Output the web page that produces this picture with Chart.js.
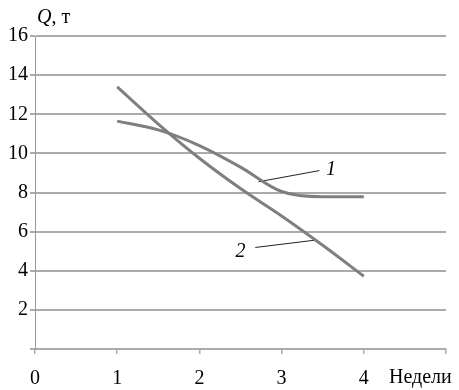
<!DOCTYPE html>
<html>
<head>
<meta charset="utf-8">
<script src="https://cdn.jsdelivr.net/npm/chart.js@4"></script>
<style>
  html, body { margin: 0; padding: 0; background: #fff; }
  #wrap { width: 459px; height: 390px; position: relative; }
</style>
</head>
<body>
<div id="wrap"><canvas id="chart" width="459" height="390"></canvas></div>
<script>
// Weeks on x, Q (tonnes) on y
const WEEKS = [1, 1.5, 2, 2.5, 3, 3.5, 4];
const CURVE_1 = [11.65, 11.2, 10.4, 9.3, 8.05, 7.78, 7.78];
const CURVE_2 = [13.4, 11.5, 9.75, 8.2, 6.8, 5.3, 3.72];
const X_TICKS = [0, 1, 2, 3, 4];
const Y_TICKS = [2, 4, 6, 8, 10, 12, 14, 16];

// leader lines for the curve labels (data coords)
const LEADER_1 = [{ x: 2.72, y: 8.55 }, { x: 3.46, y: 9.12 }];
const LEADER_2 = [{ x: 2.68, y: 5.19 }, { x: 3.4, y: 5.56 }];
const LABELS = [
  { text: "1", x: 3.6, y: 9.15 },
  { text: "2", x: 2.5, y: 4.96 },
];

const SERIF = "'Liberation Serif', 'Times New Roman', serif";
const CURVE_COLOR = "#7f7f7f";
const GRID_COLOR = "#ababab";

const toPoints = (ys) => ys.map((y, i) => ({ x: WEEKS[i], y }));

const textPlugin = {
  id: "texts",
  afterDraw(chart) {
    const { ctx, scales } = chart;
    const xs = scales.x, ys = scales.y;
    ctx.save();
    ctx.fillStyle = "#000";
    ctx.textBaseline = "middle";

    // curve numbers
    ctx.font = `italic 20px ${SERIF}`;
    ctx.textAlign = "center";
    LABELS.forEach((l) => {
      ctx.fillText(l.text, xs.getPixelForValue(l.x), ys.getPixelForValue(l.y));
    });

    // axis titles
    ctx.textAlign = "left";
    ctx.font = `italic 20px ${SERIF}`;
    ctx.fillText("Q", 37, 18);
    const qw = ctx.measureText("Q").width;
    ctx.font = `20px ${SERIF}`;
    ctx.fillText(", т", 37 + qw, 18);
    ctx.fillText("Недели", 389, 378);
    ctx.restore();
  },
};

new Chart(document.getElementById("chart"), {
  type: "line",
  data: {
    datasets: [
      { data: toPoints(CURVE_1), borderColor: CURVE_COLOR, borderWidth: 3, cubicInterpolationMode: "monotone", pointRadius: 0 },
      { data: toPoints(CURVE_2), borderColor: CURVE_COLOR, borderWidth: 3, cubicInterpolationMode: "monotone", pointRadius: 0 },
      { data: LEADER_1, borderColor: "#222", borderWidth: 1, pointRadius: 0 },
      { data: LEADER_2, borderColor: "#222", borderWidth: 1, pointRadius: 0 },
    ],
  },
  options: {
    responsive: false,
    animation: false,
    layout: { padding: { top: 36, right: 13, left: 0, bottom: 0 } },
    plugins: { legend: { display: false }, tooltip: { enabled: false } },
    scales: {
      x: {
        type: "linear",
        min: 0,
        max: 5,
        afterBuildTicks: (s) => { s.ticks = [0, 1, 2, 3, 4, 5].map((v) => ({ value: v })); },
        afterFit: (s) => { s.height = 41; },
        ticks: {
          callback: (v) => (X_TICKS.includes(v) ? String(v) : ""),
          color: "#000",
          font: { family: SERIF, size: 20 },
          padding: 13,
          maxRotation: 0,
        },
        grid: { drawOnChartArea: false, drawTicks: true, tickLength: 5, color: GRID_COLOR, lineWidth: 1.5 },
        border: { color: GRID_COLOR, width: 2 },
      },
      y: {
        min: 0,
        max: 16,
        afterBuildTicks: (s) => { s.ticks = [0, ...Y_TICKS].map((v) => ({ value: v })); },
        afterFit: (s) => { s.width = 35; },
        ticks: {
          callback: (v) => (Y_TICKS.includes(v) ? String(v) : ""),
          color: "#000",
          font: { family: SERIF, size: 20 },
          padding: 2,
        },
        grid: { color: GRID_COLOR, lineWidth: 2, tickLength: 5 },
        border: { color: "#999", width: 1 },
      },
    },
  },
  plugins: [textPlugin],
});
</script>
</body>
</html>
